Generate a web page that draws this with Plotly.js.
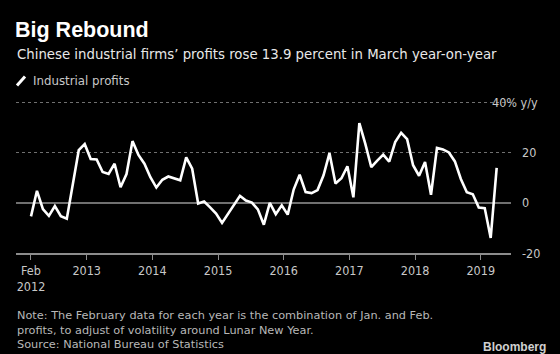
<!DOCTYPE html>
<html>
<head>
<meta charset="utf-8">
<script src="https://cdn.plot.ly/plotly-3.0.1.min.js"></script>
<style>
html,body{margin:0;padding:0;background:#000;}
#chart{width:560px;height:354px;}
</style>
</head>
<body>
<div id="chart"></div>
<script>
// Industrial profits, % y/y (Feb = Jan+Feb combined; January omitted)
const profits2012 = [-5.4, 4.8, -2.5, -5.2, -1.3, -5.3, -6.3, 7.5, 21.0, 23.4, 17.5];
const profits2013 = [17.3, 12.3, 11.5, 15.6, 6.2, 11.5, 24.6, 19.1, 15.6, 10.2, 6.1];
const profits2014 = [9.2, 10.5, 9.7, 9.0, 18.1, 13.6, -0.3, 0.5, -1.8, -4.3, -8.0];
const profits2015 = [-4.3, -0.5, 2.8, 0.9, 0.1, -2.6, -8.7, 0.0, -4.5, -1.0, -4.7];
const profits2016 = [5.3, 11.2, 4.3, 3.9, 5.1, 11.0, 19.8, 7.7, 9.8, 14.6, 2.2];
const profits2017 = [31.8, 23.5, 14.2, 16.8, 19.2, 16.4, 24.2, 27.9, 25.4, 15.0, 10.8];
const profits2018 = [16.3, 3.2, 21.9, 21.3, 20.1, 16.5, 9.5, 4.2, 3.4, -1.9, -2.1];
const profits2019 = [-14.0, 13.9];

const years = [2012, 2013, 2014, 2015, 2016, 2017, 2018, 2019];
const monthNames = ['Feb','Mar','Apr','May','Jun','Jul','Aug','Sep','Oct','Nov','Dec'];
const tickLabels = ['Feb<br>2012', '2013', '2014', '2015', '2016', '2017', '2018', '2019'];
const yTickValues = [40, 20, 0, -20];
const yTickLabels = ['40% y/y', '20', '0', '-20'];

const seriesByYear = [profits2012, profits2013, profits2014, profits2015, profits2016, profits2017, profits2018, profits2019];
const values = [].concat(...seriesByYear);
const labels = [];
seriesByYear.forEach((arr, yi) => arr.forEach((v, mi) => labels.push(monthNames[mi] + ' ' + years[yi])));
const xs = values.map((v, i) => i);

// tick positions: first point, then year boundaries
const perYear = 11;
const yearOffset = 9.33;
const tickVals = [0].concat(years.slice(1).map((y, i) => yearOffset + perYear * i));

// pixel layout helpers
const W = 560, H = 354;
const plotL = 16, plotR = 511, plotT = 99.5, plotB = 252.7;
const px2x = p => (p - plotL) / (plotR - plotL);
const px2y = p => (plotB - p) / (plotB - plotT);

const sansNarrow = '"DejaVu Sans Condensed", "Liberation Sans Narrow", "DejaVu Sans", sans-serif';
const sans = '"DejaVu Sans", sans-serif';

const annotations = [
  {text: 'Chinese industrial firms\u2019 profits rose 13.9 percent in March year-on-year',
   xref:'paper', yref:'paper', x: px2x(15), y: px2y(54), xanchor:'left', yanchor:'middle',
   showarrow:false, font:{family: sans, size: 13.3, color:'#e8e8e8'}},
  {text: 'Industrial profits',
   xref:'paper', yref:'paper', x: px2x(31), y: px2y(80.5), xanchor:'left', yanchor:'middle',
   showarrow:false, font:{family: sans, size: 11.8, color:'#c8c8c8'}},
  {text: 'Note: The February data for each year is the combination of Jan. and Feb.<br>profits, to adjust of volatility around Lunar New Year.<br>Source: National Bureau of Statistics',
   xref:'paper', yref:'paper', x: px2x(15), y: px2y(307), xanchor:'left', yanchor:'top', align:'left',
   showarrow:false, font:{family: sans, size: 11.3, color:'#b8b8b8'}},
  {text: '<b>Bloomberg</b>',
   xref:'paper', yref:'paper', x: px2x(548), y: px2y(347), xanchor:'right', yanchor:'middle',
   showarrow:false, font:{family: '"Liberation Sans", Arial, sans-serif', size: 12, color:'#d0d0d0'}}
];
yTickValues.forEach((v, i) => {
  const isTop = i === 0;
  annotations.push({
    text: yTickLabels[i], xref:'paper', yref:'y',
    x: isTop ? px2x(540) : px2x(520), y: v,
    xanchor: isTop ? 'right' : 'left', yanchor:'middle', showarrow:false,
    font:{family: sansNarrow, size: 12.5, color:'#c8c8c8'}
  });
});

const shapes = [
  // legend slash
  {type:'line', xref:'paper', yref:'paper', x0:px2x(17), y0:px2y(85), x1:px2x(25), y1:px2y(76),
   line:{color:'#ffffff', width:3}},
  // mask to shorten the top gridline before its label
  {type:'rect', xref:'paper', yref:'paper', x0:px2x(486), x1:px2x(513), y0:px2y(99), y1:px2y(105),
   fillcolor:'#000000', line:{width:0}, layer:'between'}
];

const trace = {
  x: xs, y: values, text: labels, type:'scatter', mode:'lines',
  line:{color:'#ffffff', width:2.6, shape:'linear'},
  hoverinfo:'text+y', showlegend:false
};

const layout = {
  width: W, height: H,
  paper_bgcolor:'#000000', plot_bgcolor:'#000000',
  margin:{l: plotL, r: W - plotR, t: plotT, b: H - plotB, pad:0},
  title:{text:'<b>Big Rebound</b>', x: 15/W, xanchor:'left', y: 1 - 29/H, yanchor:'middle',
         font:{family:'"Liberation Sans", Arial, sans-serif', size: 21.5, color:'#ffffff'}},
  xaxis:{
    range:[-2.51, 80.4], showgrid:false, zeroline:false,
    showline:true, linecolor:'#8c8c8c', linewidth:1.5,
    tickmode:'array', tickvals: tickVals, ticktext: tickLabels,
    ticks:'outside', ticklen:5, tickwidth:1, tickcolor:'#8c8c8c',
    tickfont:{family: sansNarrow, size:12.5, color:'#c8c8c8'},
    fixedrange:true
  },
  yaxis:{
    range:[-20, 41], showline:false, showticklabels:false, ticks:'',
    tickmode:'array', tickvals:[20, 40],
    showgrid:true, gridcolor:'#707070', gridwidth:1, griddash:'dot',
    zeroline:true, zerolinecolor:'#707070', zerolinewidth:1.5,
    fixedrange:true
  },
  annotations: annotations,
  shapes: shapes
};

Plotly.newPlot('chart', [trace], layout, {displayModeBar:false, staticPlot:true});
</script>
</body>
</html>
